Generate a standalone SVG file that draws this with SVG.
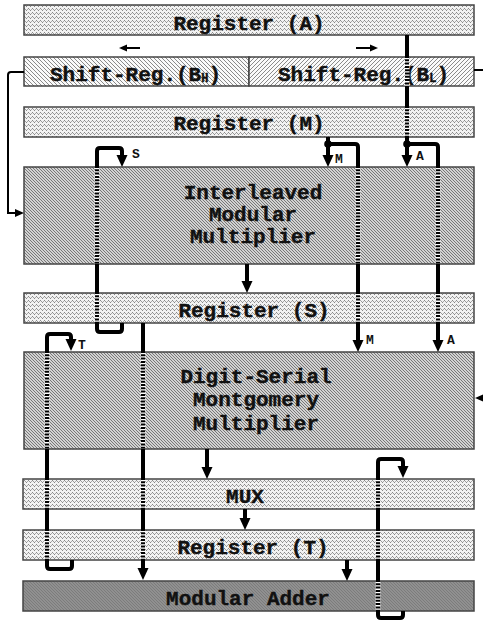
<svg xmlns="http://www.w3.org/2000/svg" width="483" height="621" viewBox="0 0 483 621">
<style>
.box{stroke:#444;stroke-width:1.5}
.reg{fill:url(#pReg)}
.mul{fill:url(#pMul)}
.add{fill:url(#pAdd)}
.t{font-family:"Liberation Mono","Courier New",monospace;font-weight:bold;font-size:21px;fill:#111;stroke:#111;stroke-width:0.4;text-anchor:middle}
.lb{font-family:"Liberation Mono","Courier New",monospace;font-weight:bold;font-size:13px;fill:#111}
.w{fill:none;stroke:#000;stroke-width:4;stroke-linejoin:round}
.thin{fill:none;stroke:#000;stroke-width:2}
.gap{fill:none;stroke:#fff;stroke-width:5;stroke-dasharray:1.3 2}
</style>
<defs>
<pattern id="pReg" width="4" height="4" patternUnits="userSpaceOnUse">
<rect width="4" height="4" fill="#f2f2f2"/>
<rect x="0" y="0" width="1" height="1" fill="#888"/>
<rect x="1" y="1" width="1" height="1" fill="#9c9c9c"/>
<rect x="2" y="2" width="1" height="1" fill="#888"/>
<rect x="3" y="1" width="1" height="1" fill="#aaa"/>
</pattern>
<pattern id="pBH" width="4" height="4" patternUnits="userSpaceOnUse">
<rect width="4" height="4" fill="#fafafa"/>
<path d="M-1,-1 L5,5 M-1,3 L1,5 M3,-1 L5,1" stroke="#8a8a8a" stroke-width="1"/>
</pattern>
<pattern id="pBL" width="4" height="4" patternUnits="userSpaceOnUse">
<rect width="4" height="4" fill="#fafafa"/>
<path d="M-1,5 L5,-1 M-1,1 L1,-1 M3,5 L5,3" stroke="#8a8a8a" stroke-width="1"/>
</pattern>
<pattern id="pMul" width="3" height="3" patternUnits="userSpaceOnUse">
<rect width="3" height="3" fill="#d2d2d2"/>
<path d="M-1,-1 L4,4 M-1,2 L1,4 M2,-1 L4,1" stroke="#777" stroke-width="1"/>
</pattern>
<pattern id="pAdd" width="3" height="3" patternUnits="userSpaceOnUse">
<rect width="3" height="3" fill="#909090"/>
<path d="M-1,-1 L4,4 M-1,2 L1,4 M2,-1 L4,1" stroke="#7c7c7c" stroke-width="1"/>
</pattern>
<marker id="ah" markerUnits="userSpaceOnUse" viewBox="0 0 12 12" markerWidth="12" markerHeight="12" refX="2" refY="6" orient="auto">
<path d="M0,0.5 L12,6 L0,11.5 z" fill="#000"/>
</marker>
</defs>

<g id="regA">
<rect class="box reg" x="24" y="5" width="450" height="30"/>
<text class="t" x="249" y="30">Register (A)</text>
</g>
<g id="shiftBH">
<rect class="box" fill="url(#pBH)" x="24" y="57" width="225" height="29"/>
<text class="t" x="50" y="81" style="text-anchor:start">Shift-Reg.(B<tspan font-size="12" dy="1">H</tspan><tspan dy="-1">)</tspan></text>
</g>
<g id="shiftBL">
<rect class="box" fill="url(#pBL)" x="249" y="57" width="225" height="29"/>
<text class="t" x="278" y="81" style="text-anchor:start">Shift-Reg.(B<tspan font-size="12" dy="1">L</tspan><tspan dy="-1">)</tspan></text>
</g>
<g id="regM">
<rect class="box reg" x="24" y="107" width="450" height="30"/>
<text class="t" x="249" y="130">Register (M)</text>
</g>
<g id="interleaved">
<rect class="box mul" x="24" y="167" width="450" height="97"/>
<text class="t" x="253" y="199">Interleaved</text>
<text class="t" x="253" y="221">Modular</text>
<text class="t" x="253" y="243">Multiplier</text>
</g>
<g id="regS">
<rect class="box reg" x="24" y="293" width="450" height="30"/>
<text class="t" x="254" y="317">Register (S)</text>
</g>
<g id="digitSerial">
<rect class="box mul" x="24" y="352" width="450" height="97"/>
<text class="t" x="256" y="383">Digit-Serial</text>
<text class="t" x="256" y="406">Montgomery</text>
<text class="t" x="256" y="430">Multiplier</text>
</g>
<g id="mux">
<rect class="box reg" x="23" y="479" width="451" height="30"/>
<text class="t" x="245" y="503">MUX</text>
</g>
<g id="regT">
<rect class="box reg" x="23" y="530" width="451" height="30"/>
<text class="t" x="253" y="554">Register (T)</text>
</g>
<g id="modAdder">
<rect class="box add" x="23" y="581" width="451" height="30"/>
<text class="t" x="248" y="605">Modular Adder</text>
</g>

<g id="connectors">
<path class="thin" d="M24,72 H11 Q8,72 8,75 V213 H16"/>
<polygon points="24,213 15,209 15,217" fill="#000"/>
<path class="thin" d="M474,70 H483"/>
<polygon points="475,398 484,394 484,402" fill="#000"/>
<path class="thin" d="M140,48 H125"/>
<polygon points="119,48 127,44.5 127,51.5" fill="#000"/>
<path class="thin" d="M356,48 H372"/>
<polygon points="378,48 370,44.5 370,51.5" fill="#000"/>

<path class="w" d="M407,35 V157" marker-end="url(#ah)"/>
<path class="w" d="M407,144 H435 Q438,144 438,147 V342" marker-end="url(#ah)"/>
<circle cx="407" cy="144" r="3.8" fill="#000"/>
<path class="w" d="M328,137 V157" marker-end="url(#ah)"/>
<path class="w" d="M328,144 H355 Q358,144 358,147 V342" marker-end="url(#ah)"/>
<circle cx="328" cy="144" r="3.8" fill="#000"/>
<path class="w" d="M122,323 V329 Q122,332 119,332 H100 Q97,332 97,329 V151 Q97,148 100,148 H119 Q122,148 122,151 V157" marker-end="url(#ah)"/>
<path class="w" d="M247,264 V283" marker-end="url(#ah)"/>
<path class="w" d="M143,323 V570" marker-end="url(#ah)"/>
<path class="w" d="M72,560 V566 Q72,569 69,569 H50 Q47,569 47,566 V337 Q47,334 50,334 H68 Q71,334 71,337 V341" marker-end="url(#ah)"/>
<path class="w" d="M207,449 V469" marker-end="url(#ah)"/>
<path class="w" d="M245,509 V520" marker-end="url(#ah)"/>
<path class="w" d="M347,560 V571" marker-end="url(#ah)"/>
<path class="w" d="M403,611 V615 Q403,618 400,618 H381 Q378,618 378,615 V462 Q378,459 381,459 H400 Q403,459 403,462 V468" marker-end="url(#ah)"/>

<path class="gap" d="M407,58 V86 M407,108 V137 M438,168 V264 M438,294 V323 M358,168 V264 M358,294 V323 M97,168 V264 M97,294 V323 M143,353 V449 M143,480 V509 M143,531 V560 M47,353 V449 M47,480 V509 M47,531 V560 M378,480 V509 M378,531 V560 M378,582 V611"/>

<text class="lb" x="132" y="158">S</text>
<text class="lb" x="335" y="163">M</text>
<text class="lb" x="416" y="160">A</text>
<text class="lb" x="366" y="344">M</text>
<text class="lb" x="447" y="344">A</text>
<text class="lb" x="78" y="349">T</text>
</g>
</svg>
